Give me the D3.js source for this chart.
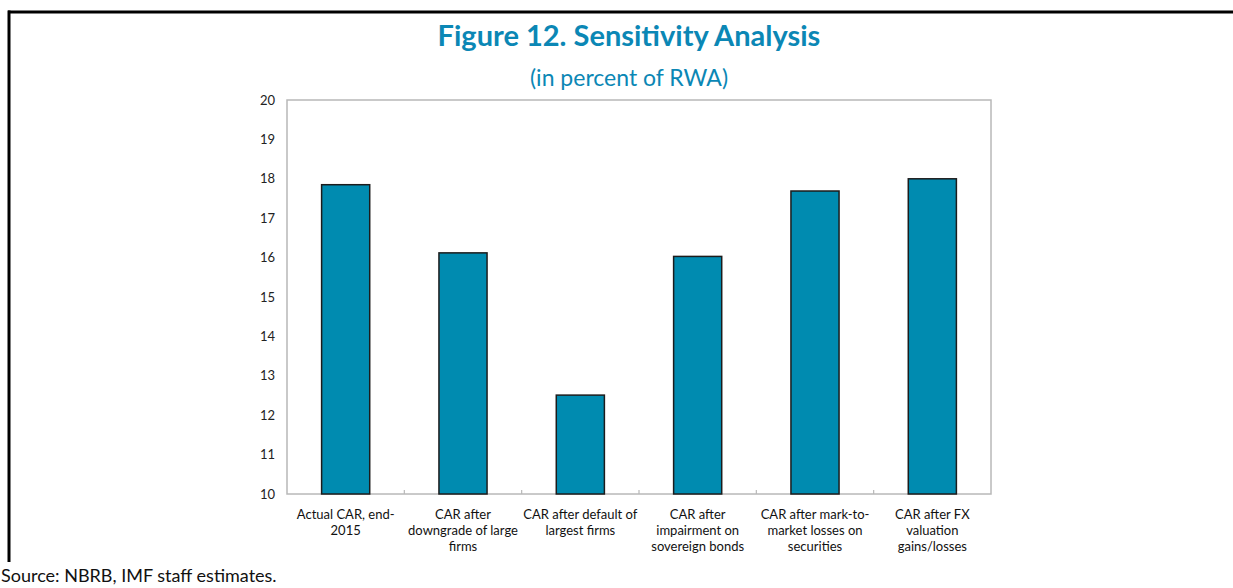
<!DOCTYPE html>
<html>
<head>
<meta charset="utf-8">
<script src="https://cdn.jsdelivr.net/npm/d3@7"></script>
<style>
  body { margin: 0; background: #fff; }
  svg { display: block; font-family: Lato, "Open Sans", sans-serif; }
</style>
</head>
<body>
<svg id="chart" width="1233" height="588"></svg>
<script>
const categories = [
    ["Actual CAR, end-", "2015"],
    ["CAR after", "downgrade of large", "firms"],
    ["CAR after default of", "largest firms"],
    ["CAR after", "impairment on", "sovereign bonds"],
    ["CAR after mark-to-", "market losses on", "securities"],
    ["CAR after FX", "valuation", "gains/losses"]
];
const values = [17.85, 16.12, 12.51, 16.03, 17.69, 18.0];
const yTicks = [10, 11, 12, 13, 14, 15, 16, 17, 18, 19, 20];

const svg = d3.select("#chart");
const width = 1233;
const height = 588;
const margin = { top: 100, right: 242, bottom: 94, left: 287 };
const teal = "#0B87B5";

// frame: top and left black rules
svg.append("line")
    .attr("x1", 8).attr("x2", width).attr("y1", 12).attr("y2", 12)
    .attr("stroke", "#000").attr("stroke-width", 3);
svg.append("line")
    .attr("x1", 9).attr("x2", 9).attr("y1", 10.5).attr("y2", 562)
    .attr("stroke", "#000").attr("stroke-width", 3);

// title + subtitle
svg.append("text")
    .attr("x", 629).attr("y", 46)
    .attr("text-anchor", "middle")
    .text("Figure 12. Sensitivity Analysis")
    .style("font-size", "29px")
    .style("font-weight", "bold")
    .style("fill", teal);

svg.append("text")
    .attr("x", 629).attr("y", 86)
    .attr("text-anchor", "middle")
    .text("(in percent of RWA)")
    .style("font-size", "23px")
    .style("fill", teal);

// scales
const x = d3.scaleBand()
    .domain(d3.range(categories.length))
    .range([margin.left, width - margin.right])
    .paddingInner(0.59)
    .paddingOuter(0.295);

const y = d3.scaleLinear()
    .domain([10, 20])
    .range([height - margin.bottom, margin.top]);

const step = x.step();
const x0 = margin.left, x1 = width - margin.right;

// plot frame (light gray box)
svg.append("rect")
    .attr("x", x0).attr("y", y(20))
    .attr("width", x1 - x0).attr("height", y(10) - y(20))
    .attr("fill", "none")
    .attr("stroke", "#B8B8B8")
    .attr("stroke-width", 1.5);

// y axis labels
const yAxis = svg.append("g")
    .attr("transform", `translate(${x0},0)`)
    .call(d3.axisLeft(y).tickValues(yTicks).tickSize(0).tickPadding(12));
yAxis.select(".domain").remove();
yAxis.selectAll("text")
    .style("font-size", "13px")
    .style("font-family", "Lato, 'Open Sans', sans-serif")
    .attr("fill", "#222");

// x category separator ticks pointing up
svg.append("g")
    .selectAll("line")
    .data(d3.range(1, categories.length))
    .join("line")
    .attr("x1", d => x0 + d * step)
    .attr("x2", d => x0 + d * step)
    .attr("y1", y(10))
    .attr("y2", y(10) - 4)
    .attr("stroke", "#B8B8B8")
    .attr("stroke-width", 1.2);

// bars
svg.append("g")
    .selectAll("rect")
    .data(values)
    .join("rect")
    .attr("x", (d, i) => x(i))
    .attr("y", d => y(d))
    .attr("width", x.bandwidth())
    .attr("height", d => y(10) - y(d))
    .attr("fill", "#008BB0")
    .attr("stroke", "#1c1c1c")
    .attr("stroke-width", 1.5);

// category labels
const lab = svg.append("g")
    .selectAll("text")
    .data(categories)
    .join("text")
    .attr("x", (d, i) => x(i) + x.bandwidth() / 2)
    .attr("y", 519)
    .attr("text-anchor", "middle")
    .style("font-size", "13px")
    .style("fill", "#111");
lab.selectAll("tspan")
    .data(d => d)
    .join("tspan")
    .attr("x", function () { return d3.select(this.parentNode).attr("x"); })
    .attr("dy", (d, i) => i === 0 ? 0 : 16)
    .text(d => d);

// source note
svg.append("text")
    .attr("x", 1).attr("y", 582)
    .text("Source: NBRB, IMF staff estimates.")
    .style("font-size", "18px")
    .style("fill", "#111");
</script>
</body>
</html>
